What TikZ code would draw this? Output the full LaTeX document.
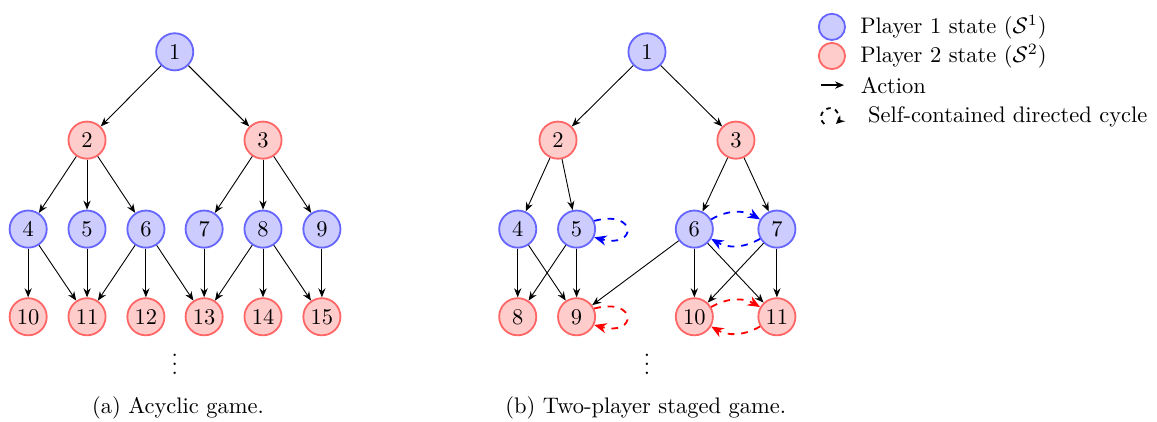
\documentclass[tikz,border=0pt]{standalone}
\usepackage{xcolor}
\usepackage{tikz}
\usetikzlibrary{arrows.meta, positioning}
\definecolor{oneblue}{RGB}{102, 102, 255}
\definecolor{onefill}{RGB}{204, 204, 255}
\definecolor{twored}{RGB}{255, 102, 102}
\definecolor{twofill}{RGB}{255, 204, 204}
\tikzset{
    pone/.style={circle, draw=oneblue, fill=onefill, thick, minimum size=0.58cm, inner sep=0pt},
    ptwo/.style={circle, draw=twored, fill=twofill, thick, minimum size=0.58cm, inner sep=0pt},
    action/.style={-{Stealth[length=4pt, width=3.2pt]}, black},
    cycleb/.style={-{Stealth[length=5.5pt, width=4.5pt]}, dashed, thick, blue},
    cycler/.style={-{Stealth[length=5.5pt, width=4.5pt]}, dashed, thick, red}
}

\begin{document}
\begin{tikzpicture}
        \useasboundingbox (0,0) rectangle (18.08,-6.59);
        % (a) acyclic game
        \node[pone] (a1) at (2.73,-0.81) {1};
        \node[ptwo] (a2) at (1.36,-2.19) {2};
        \node[ptwo] (a3) at (4.11,-2.19) {3};
        \node[pone] (a4) at (0.44,-3.58) {4};
        \node[pone] (a5) at (1.36,-3.58) {5};
        \node[pone] (a6) at (2.28,-3.58) {6};
        \node[pone] (a7) at (3.19,-3.58) {7};
        \node[pone] (a8) at (4.11,-3.58) {8};
        \node[pone] (a9) at (5.03,-3.58) {9};
        \node[ptwo] (a10) at (0.44,-4.95) {10};
        \node[ptwo] (a11) at (1.36,-4.95) {11};
        \node[ptwo] (a12) at (2.28,-4.95) {12};
        \node[ptwo] (a13) at (3.19,-4.95) {13};
        \node[ptwo] (a14) at (4.11,-4.95) {14};
        \node[ptwo] (a15) at (5.03,-4.95) {15};
        \node (adots) at (2.73,-5.58) {$\vdots$};
        \node (acap) at (2.78,-6.37) {(a) Acyclic game.};

        \draw[action] (a1) edge (a2) edge (a3);
        \draw[action] (a2) edge (a4) edge (a5) edge (a6);
        \draw[action] (a3) edge (a7) edge (a8) edge (a9);
        \draw[action] (a4) edge (a10) edge (a11);
        \draw[action] (a5) edge (a11);
        \draw[action] (a6) edge (a11) edge (a12) edge (a13);
        \draw[action] (a7) edge (a13);
        \draw[action] (a8) edge (a13) edge (a14) edge (a15);
        \draw[action] (a9) edge (a15);

        % (b) two-player staged game
        \node[pone] (b1) at (10.11,-0.81) {1};
        \node[ptwo] (b2) at (8.72,-2.19) {2};
        \node[ptwo] (b3) at (11.50,-2.19) {3};
        \node[pone] (b4) at (8.09,-3.58) {4};
        \node[pone] (b5) at (9.01,-3.58) {5};
        \node[pone] (b6) at (10.85,-3.58) {6};
        \node[pone] (b7) at (12.14,-3.58) {7};
        \node[ptwo] (b8) at (8.09,-4.95) {8};
        \node[ptwo] (b9) at (9.01,-4.95) {9};
        \node[ptwo] (b10) at (10.85,-4.95) {10};
        \node[ptwo] (b11) at (12.14,-4.95) {11};
        \node (bdots) at (10.11,-5.58) {$\vdots$};
        \node (bcap) at (10.09,-6.37) {(b) Two-player staged game.};

        \draw[action] (b1) edge (b2) edge (b3);
        \draw[action] (b2) edge (b4) edge (b5);
        \draw[action] (b3) edge (b6) edge (b7);
        \draw[action] (b4) edge (b8) edge (b9);
        \draw[action] (b5) edge (b8) edge (b9);
        \draw[action] (b6) edge (b9) edge (b10) edge (b11);
        \draw[action] (b7) edge (b10) edge (b11);

        % cycles
        \draw[cycleb] (b5.25) .. controls +(15:0.7) and +(-15:0.7) .. (b5.-25);
        \draw[cycleb] (b6) to[bend left=30] (b7);
        \draw[cycleb] (b7) to[bend left=30] (b6);
        \draw[cycler] (b9.25) .. controls +(15:0.7) and +(-15:0.7) .. (b9.-25);
        \draw[cycler] (b10) to[bend left=30] (b11);
        \draw[cycler] (b11) to[bend left=30] (b10);

        % legend
        \node[pone, minimum size=0.41cm] (key1) at (13.00,-0.42) {};
        \node[ptwo, minimum size=0.41cm] (key2) at (13.00,-0.875) {};
        \node[right=1mm of key1] (key1txt) {Player 1 state ($\mathcal{S}^1$)};
        \node[right=1mm of key2] (key2txt) {Player 2 state ($\mathcal{S}^2$)};
        \coordinate (act0) at (12.83,-1.33);
        \coordinate[right=0.36cm of act0] (act1);
        \draw[action, thick] (act0) -- (act1);
        \node[right=0.14cm of act1] (acttxt) {Action};
        \coordinate (cyc) at (12.97,-1.83);
        \draw[dashed, thick, -{Stealth[length=4pt, width=3.5pt]}, dash pattern=on 2pt off 2pt] (cyc) ++(230:0.14) arc[start angle=230, end angle=-50, radius=0.14];
        \node[right=0.47cm of cyc] (cyctxt) {Self-contained directed cycle};
    \end{tikzpicture}
\end{document}
